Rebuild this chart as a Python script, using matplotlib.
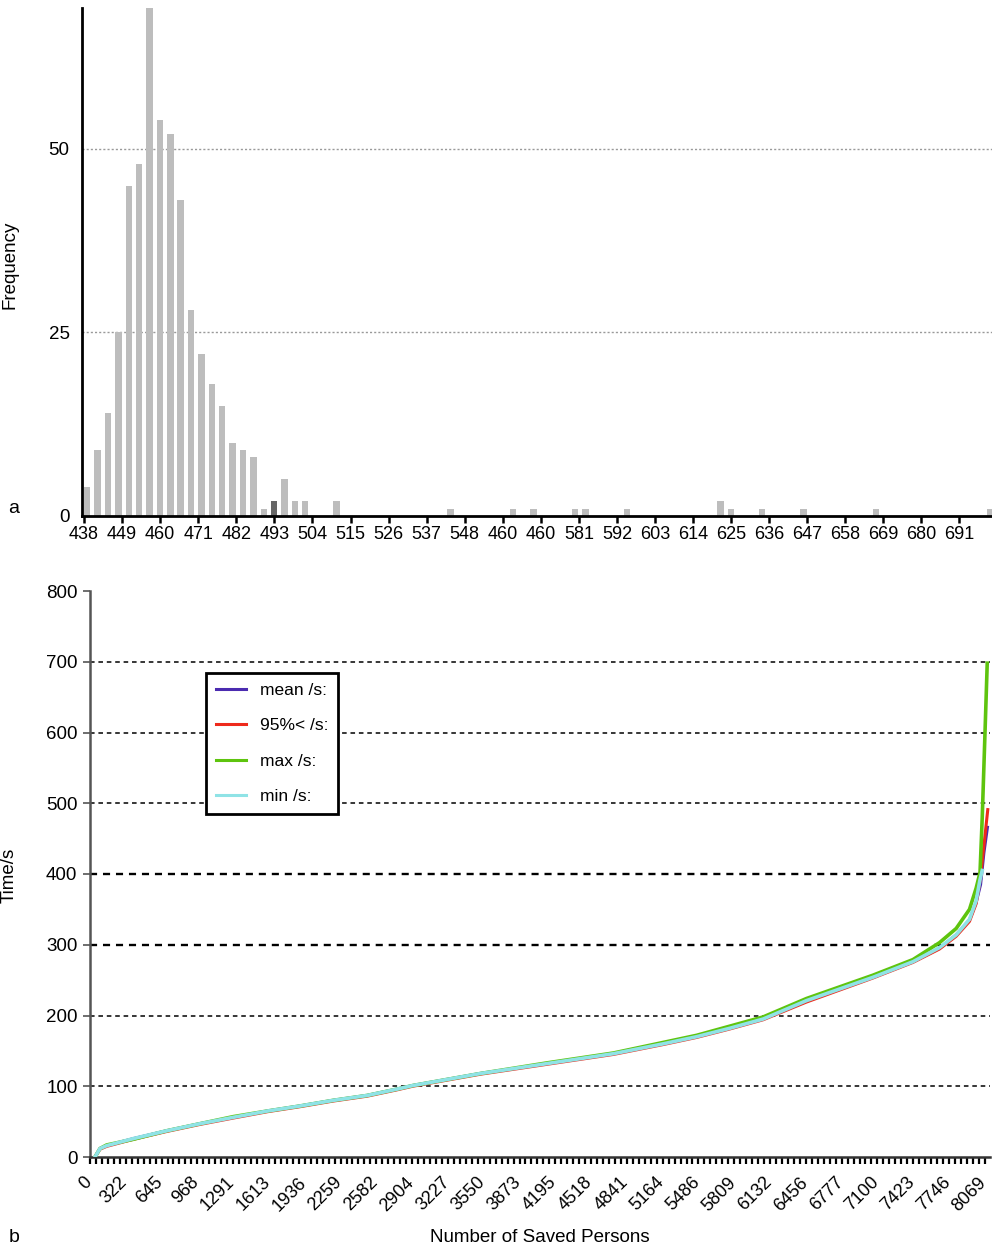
import numpy as np
import matplotlib
matplotlib.use('Agg')
import matplotlib.pyplot as plt
import matplotlib.transforms as mtransforms

plt.rcParams['font.family'] = ['Liberation Sans', 'DejaVu Sans']

# ---- panel a: histogram of evacuation times
bin_start = [438, 441, 444, 447, 450, 453, 456, 459, 462, 465, 468, 471, 474, 477,
             480, 483, 486, 489, 492, 495, 498, 501, 510, 543, 561, 567, 579, 582,
             594, 621, 624, 633, 645, 666, 699]
freq = [4, 9, 14, 25, 45, 48, 70, 54, 52, 43, 28, 22, 18, 15,
        10, 9, 8, 1, 2, 5, 2, 2, 2, 1, 1, 1, 1, 1,
        1, 2, 1, 1, 1, 1, 1]
highlight_bin = 492
hist_ticks = [438, 449, 460, 471, 482, 493, 504, 515, 526, 537, 548, 559,
              570, 581, 592, 603, 614, 625, 636, 647, 658, 669, 680, 691]
hist_ticklabels = ['438', '449', '460', '471', '482', '493', '504', '515', '526',
                   '537', '548', '460', '460', '581', '592', '603', '614', '625',
                   '636', '647', '658', '669', '680', '691']

# ---- panel b: time vs number of saved persons
p_mean = [45, 90, 150, 390, 690, 990, 1290, 1600, 1890, 2190, 2500, 2770, 2910,
          3520, 4120, 4720, 5170, 5470, 5770, 6070, 6460, 7060, 7420, 7660, 7810,
          7930, 7990, 8030, 8060, 8092]
t_mean = [0, 12, 16, 26, 37, 47, 56, 65, 72, 80, 87, 96, 101,
          118, 132, 146, 161, 171, 183, 196, 221, 254, 276, 295, 314,
          335, 360, 385, 430, 466]
p_95 = [45, 90, 150, 390, 690, 990, 1290, 1600, 1890, 2190, 2500, 2770, 2910,
        3520, 4120, 4720, 5170, 5470, 5770, 6070, 6460, 7060, 7420, 7660, 7810,
        7930, 7990, 8030, 8060, 8095]
t_95 = [0, 11, 15, 25, 36, 46, 55, 64, 71, 79, 86, 95, 100,
        117, 131, 145, 159, 169, 181, 194, 219, 253, 275, 294, 312,
        333, 358, 395, 440, 491]
p_max = [45, 90, 150, 390, 690, 990, 1290, 1600, 1890, 2190, 2500, 2770, 2910,
         3520, 4120, 4720, 5170, 5470, 5770, 6070, 6460, 7060, 7420, 7660, 7810,
         7930, 7990, 8025, 8045, 8070, 8090]
t_max = [0, 12, 17, 25, 37, 47, 57, 65, 72, 80, 87, 96, 101,
         118, 133, 147, 162, 172, 185, 198, 224, 257, 279, 303, 323,
         350, 380, 402, 480, 600, 698]
p_min = [45, 90, 150, 390, 690, 990, 1290, 1600, 1890, 2190, 2500, 2770, 2910,
         3520, 4120, 4720, 5170, 5470, 5770, 6070, 6460, 7060, 7420, 7660, 7810,
         7930, 7990, 8025, 8045]
t_min = [0, 12, 16, 26, 37, 47, 56, 65, 72, 80, 87, 96, 101,
         118, 132, 146, 160, 170, 182, 195, 221, 254, 276, 296, 314,
         336, 362, 392, 405]
persons_ticks = [0, 322, 645, 968, 1291, 1613, 1936, 2259, 2582, 2904, 3227, 3550,
                 3873, 4195, 4518, 4841, 5164, 5486, 5809, 6132, 6456, 6777, 7100,
                 7423, 7746, 8069]

W, H = 992, 1246
fig = plt.figure(figsize=(W / 100, H / 100), dpi=100)

# ---------------- panel a
ax1 = fig.add_axes([82 / W, 1 - 516 / H, 910 / W, 508 / H])
cols = ['#666666' if b == highlight_bin else '#bdbdbd' for b in bin_start]
ax1.bar(bin_start, freq, width=1.85, align='edge', color=cols, zorder=2)
ax1.set_xlim(437.4, 700.4)
ax1.set_ylim(0, 69.2)
ax1.set_yticks([0, 25, 50])
ax1.set_xticks(hist_ticks)
ax1.set_xticklabels(hist_ticklabels)
ax1.tick_params(axis='y', length=0, pad=9, labelsize=13.5)
ax1.tick_params(axis='x', length=5, width=1.8, pad=2, labelsize=13, color='black')
for s in ['top', 'right']:
    ax1.spines[s].set_visible(False)
for s in ['left', 'bottom']:
    ax1.spines[s].set_linewidth(2)
    ax1.spines[s].set_color('black')
for v in [25, 50]:
    ax1.axhline(v, color='#999999', lw=1, ls=(0, (1.5, 1.5)), zorder=1)
ax1.set_ylabel('Frequency', fontsize=13.5)
ax1.yaxis.set_label_coords(-0.0703, 0.494)

# ---------------- panel b
ax2 = fig.add_axes([90 / W, 1 - 1157 / H, 900 / W, 566 / H])
ax2.plot(p_mean, t_mean, color='#4b2bb0', lw=2.2, label='mean /s:', zorder=3)
ax2.plot(p_95, t_95, color='#ee2a1c', lw=2.2, label='95%< /s:', zorder=4)
ax2.plot(p_max, t_max, color='#5ec40e', lw=2.6, label='max /s:', zorder=5)
ax2.plot(p_min, t_min, color='#8fe3e6', lw=2.6, label='min /s:', zorder=6)
ax2.set_xlim(0, 8115)
ax2.set_ylim(0, 800)
ax2.set_yticks(np.arange(0, 801, 100))
ax2.set_xticks(persons_ticks)
ax2.set_xticklabels([str(v) for v in persons_ticks], rotation=45,
                    ha='right', va='top', rotation_mode='anchor')
minor = []
for a, b in zip(persons_ticks[:-1], persons_ticks[1:]):
    minor.extend(np.linspace(a, b, 7)[1:-1])
ax2.set_xticks(minor, minor=True)
ax2.tick_params(axis='x', which='both', length=5, width=1.6, color='black',
                labelsize=13, pad=5)
ax2.tick_params(axis='y', length=5, width=1.2, color='#555555', labelsize=13.5, pad=4)
# nudge the slanted labels left/down like the original
shift = mtransforms.ScaledTranslation(-0.07, -0.03, fig.dpi_scale_trans)
for lab in ax2.get_xticklabels():
    lab.set_transform(lab.get_transform() + shift)
for s in ['top', 'right']:
    ax2.spines[s].set_visible(False)
ax2.spines['left'].set_color('#555555')
ax2.spines['left'].set_linewidth(1.8)
ax2.spines['bottom'].set_color('#333333')
ax2.spines['bottom'].set_linewidth(1.8)
for v in range(100, 800, 100):
    ax2.axhline(v, color='black', lw=1.7 if v in (300, 400) else 1.1,
                ls=(0, (3, 2.5)), zorder=1)
ax2.set_ylabel('Time/s', fontsize=13.5)
ax2.yaxis.set_label_coords(-0.08, 0.498)
ax2.set_xlabel('Number of Saved Persons', fontsize=13.5, va='baseline')
ax2.xaxis.set_label_coords(0.5, (1157 - 1242) / 566)

leg = ax2.legend(loc='upper left', bbox_to_anchor=(206 / W, 1 - 673 / H),
                 bbox_transform=fig.transFigure, fontsize=12.5, fancybox=False,
                 framealpha=1, edgecolor='black', handlelength=1.75,
                 handletextpad=0.8, labelspacing=1.17, borderpad=0.55,
                 borderaxespad=0)
leg.get_frame().set_linewidth(2)
for line in leg.get_lines():
    line.set_linewidth(2.2)

fig.text(14 / W, 1 - 508 / H, 'a', fontsize=14, ha='center', va='center')
fig.text(14 / W, 1 - 1238 / H, 'b', fontsize=14, ha='center', va='center')

fig.savefig('out.png', dpi=100)
